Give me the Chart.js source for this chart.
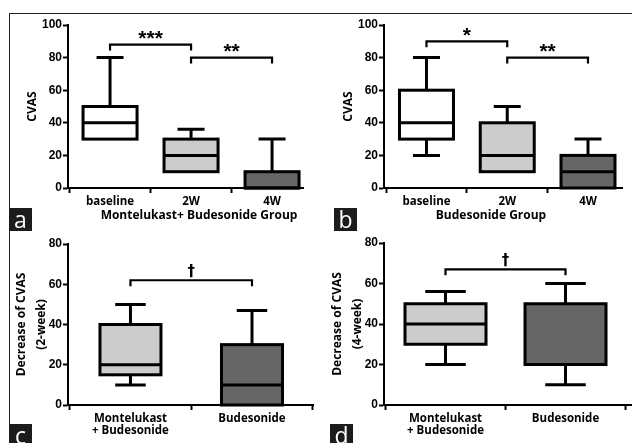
<!DOCTYPE html>
<html>
<head>
<meta charset="utf-8">
<title>CVAS box plots</title>
<script src="https://cdn.jsdelivr.net/npm/chart.js@4.4.1/dist/chart.umd.min.js"></script>
<style>
  body { margin: 0; background: #fff; }
  #fig { position: relative; width: 632px; height: 443px; overflow: hidden; background: #fff; }
  #fig canvas { position: absolute; }
  .frame { position: absolute; left: 9px; top: 13px; width: 700px; height: 500px;
           border-top: 1.5px solid #222; border-left: 1.5px solid #222; }
  .tag { position: absolute; width: 23px; height: 23px; background: #1c1c1c; color: #fff;
         font: 23px 'Open Sans', sans-serif; line-height: 23px; text-align: center; }
  .xtitle { position: absolute; width: 300px; text-align: center; color: #000;
            font: bold 12px 'Open Sans', sans-serif; line-height: 14px; }
</style>
</head>
<body>
<div id="fig">
  <div class="frame"></div>
  <canvas id="pa" width="316" height="222" style="left:0;top:0"></canvas>
  <canvas id="pb" width="316" height="222" style="left:316px;top:0"></canvas>
  <canvas id="pc" width="316" height="221" style="left:0;top:222px"></canvas>
  <canvas id="pd" width="316" height="221" style="left:316px;top:222px"></canvas>
  <div class="xtitle" style="left:49px;top:208px">Montelukast+ Budesonide Group</div>
  <div class="xtitle" style="left:341px;top:208px">Budesonide Group</div>
  <div class="tag" style="left:9px;top:208px">a</div>
  <div class="tag" style="left:334px;top:208px">b</div>
  <div class="tag" style="left:9px;top:424px">c</div>
  <div class="tag" style="left:330px;top:424px">d</div>
</div>
<script>
// categories and tick labels
const timeLabels = ['baseline', '2W', '4W'];
const groupLabels = [['Montelukast', '+ Budesonide'], 'Budesonide'];
const cvasTicks = [0, 20, 40, 60, 80, 100];
const decreaseTicks = [0, 20, 40, 60, 80];
const timeFills = ['#ffffff', '#cccccc', '#666666'];
const groupFills = ['#cccccc', '#666666'];

// a: Montelukast + Budesonide group (min, q1, median, q3, max)
const aMin = [30, 10, 0];
const aQ1 = [30, 10, 0];
const aMed = [40, 20, 0];
const aQ3 = [50, 30, 10];
const aMax = [80, 36, 30];
const aMarks = ['***', '**'];
const aMarkLevel = [88, 80];

// b: Budesonide group
const bMin = [20, 10, 0];
const bQ1 = [30, 10, 0];
const bMed = [40, 20, 10];
const bQ3 = [60, 40, 20];
const bMax = [80, 50, 30];
const bMarks = ['*', '**'];
const bMarkLevel = [90, 80];

// c: decrease of CVAS at 2 weeks
const cMin = [10, 0];
const cQ1 = [15, 0];
const cMed = [20, 10];
const cQ3 = [40, 30];
const cMax = [50, 47];
const cMarks = ['†'];
const cMarkLevel = [62];

// d: decrease of CVAS at 4 weeks
const dMin = [20, 10];
const dQ1 = [30, 20];
const dMed = [40, 20];
const dQ3 = [50, 50];
const dMax = [56, 60];
const dMarks = ['†'];
const dMarkLevel = [67];

// whiskers, box outlines, medians and significance brackets
function boxPlugin(o) {
  return {
    id: 'boxes',
    afterDatasetsDraw(chart) {
      const ctx = chart.ctx;
      const y = chart.scales.y;
      const bars = chart.getDatasetMeta(0).data;
      ctx.save();
      ctx.strokeStyle = '#000';
      ctx.fillStyle = '#000';
      bars.forEach((bar, i) => {
        const half = bar.width / 2, cap = bar.width / 4;
        const yMin = y.getPixelForValue(o.min[i]);
        const yQ1 = y.getPixelForValue(o.q1[i]);
        const yMed = y.getPixelForValue(o.med[i]);
        const yQ3 = y.getPixelForValue(o.q3[i]);
        const yMax = y.getPixelForValue(o.max[i]);
        ctx.lineWidth = 3;
        ctx.beginPath();
        if (o.max[i] > o.q3[i]) {
          ctx.moveTo(bar.x, yQ3); ctx.lineTo(bar.x, yMax);
          ctx.moveTo(bar.x - cap, yMax); ctx.lineTo(bar.x + cap, yMax);
        }
        if (o.min[i] < o.q1[i]) {
          ctx.moveTo(bar.x, yQ1); ctx.lineTo(bar.x, yMin);
          ctx.moveTo(bar.x - cap, yMin); ctx.lineTo(bar.x + cap, yMin);
        }
        ctx.stroke();
        ctx.strokeRect(bar.x - half, yQ3, bar.width, yQ1 - yQ3);
        ctx.beginPath();
        ctx.moveTo(bar.x - half, yMed); ctx.lineTo(bar.x + half, yMed);
        ctx.stroke();
      });
      ctx.lineWidth = 2.2;
      ctx.textAlign = 'center';
      ctx.font = 'bold ' + o.markSize + 'px ' + o.markFont;
      o.pairs.forEach(([a, b], k) => {
        const x1 = bars[a].x, x2 = bars[b].x;
        const yb = y.getPixelForValue(o.markLevel[k]);
        ctx.beginPath();
        ctx.moveTo(x1, yb + 6); ctx.lineTo(x1, yb); ctx.lineTo(x2, yb); ctx.lineTo(x2, yb + 6);
        ctx.stroke();
        const m = ctx.measureText(o.marks[k]);
        const mid = yb - 9.5;
        ctx.fillText(o.marks[k], (x1 + x2) / 2,
          mid + (m.actualBoundingBoxAscent - m.actualBoundingBoxDescent) / 2);
      });
      ctx.restore();
    }
  };
}

function makePanel(id, o) {
  const axisGrid = { drawOnChartArea: false, tickLength: 5, tickWidth: 2, tickColor: '#000' };
  const axisBorder = { color: '#000', width: 2 };
  new Chart(document.getElementById(id), {
    type: 'bar',
    data: {
      datasets: [{
        data: o.labels.map((_, i) => ({ x: i + 1, y: [o.q1[i], o.q3[i]] })),
        backgroundColor: o.fills,
        borderWidth: 0,
        barThickness: o.barWidth
      }]
    },
    options: {
      responsive: false,
      animation: false,
      events: [],
      layout: { padding: { left: 0, top: o.padTop, right: o.padRight, bottom: 0 } },
      plugins: { legend: { display: false }, tooltip: { enabled: false } },
      scales: {
        x: {
          type: 'linear',
          offset: false,
          min: o.xMin,
          max: o.xMax,
          afterBuildTicks: s => { s.ticks = o.labels.map((_, i) => ({ value: i + 1 })); },
          afterFit: s => { s.height = o.xHeight; },
          ticks: {
            callback: v => o.labels[v - 1],
            color: '#000',
            padding: 3,
            maxRotation: 0,
            autoSkip: false,
            font: { family: 'Open Sans', weight: 'bold', size: 11.5, lineHeight: '12px' }
          },
          grid: axisGrid,
          border: axisBorder
        },
        y: {
          min: 0,
          max: o.yTicks[o.yTicks.length - 1],
          afterBuildTicks: s => { s.ticks = o.yTicks.map(v => ({ value: v })); },
          afterFit: s => { s.width = 68; },
          ticks: {
            color: '#000',
            padding: 1,
            font: { family: 'Liberation Sans', weight: 'bold', size: 12 }
          },
          grid: axisGrid,
          border: axisBorder,
          title: {
            display: true,
            text: o.yTitle,
            color: '#000',
            padding: { top: o.titlePad },
            font: { family: 'Open Sans', weight: 'bold', size: 12, lineHeight: o.titleLh }
          }
        }
      }
    },
    plugins: [boxPlugin(o)]
  });
}

const starFont = '"Liberation Sans", Arial, sans-serif';
const daggerFont = '"DejaVu Sans", sans-serif';

makePanel('pa', {
  labels: timeLabels, fills: timeFills, yTicks: cvasTicks,
  min: aMin, q1: aQ1, med: aMed, q3: aQ3, max: aMax,
  marks: aMarks, markLevel: aMarkLevel, pairs: [[0, 1], [1, 2]], markSize: 21, markFont: starFont,
  yTitle: 'CVAS', titleLh: 1.2, titlePad: 25,
  xMin: 0.481, xMax: 3.382, barWidth: 54, padTop: 25, padRight: 13, xHeight: 34
});

makePanel('pb', {
  labels: timeLabels, fills: timeFills, yTicks: cvasTicks,
  min: bMin, q1: bQ1, med: bMed, q3: bQ3, max: bMax,
  marks: bMarks, markLevel: bMarkLevel, pairs: [[0, 1], [1, 2]], markSize: 21, markFont: starFont,
  yTitle: 'CVAS', titleLh: 1.2, titlePad: 25,
  xMin: 0.474, xMax: 3.421, barWidth: 54, padTop: 25, padRight: 10, xHeight: 34
});

makePanel('pc', {
  labels: groupLabels, fills: groupFills, yTicks: decreaseTicks,
  min: cMin, q1: cQ1, med: cMed, q3: cQ3, max: cMax,
  marks: cMarks, markLevel: cMarkLevel, pairs: [[0, 1]], markSize: 15, markFont: daggerFont,
  yTitle: ['Decrease of CVAS', '(2-week)'], titleLh: '20px', titlePad: 12,
  xMin: 0.486, xMax: 2.502, barWidth: 61, padTop: 22, padRight: 3, xHeight: 38
});

makePanel('pd', {
  labels: groupLabels, fills: groupFills, yTicks: decreaseTicks,
  min: dMin, q1: dQ1, med: dMed, q3: dQ3, max: dMax,
  marks: dMarks, markLevel: dMarkLevel, pairs: [[0, 1]], markSize: 15, markFont: daggerFont,
  yTitle: ['Decrease of CVAS', '(4-week)'], titleLh: '20px', titlePad: 12,
  xMin: 0.4875, xMax: 2.554, barWidth: 81, padTop: 21, padRight: 0, xHeight: 38
});
</script>
</body>
</html>
